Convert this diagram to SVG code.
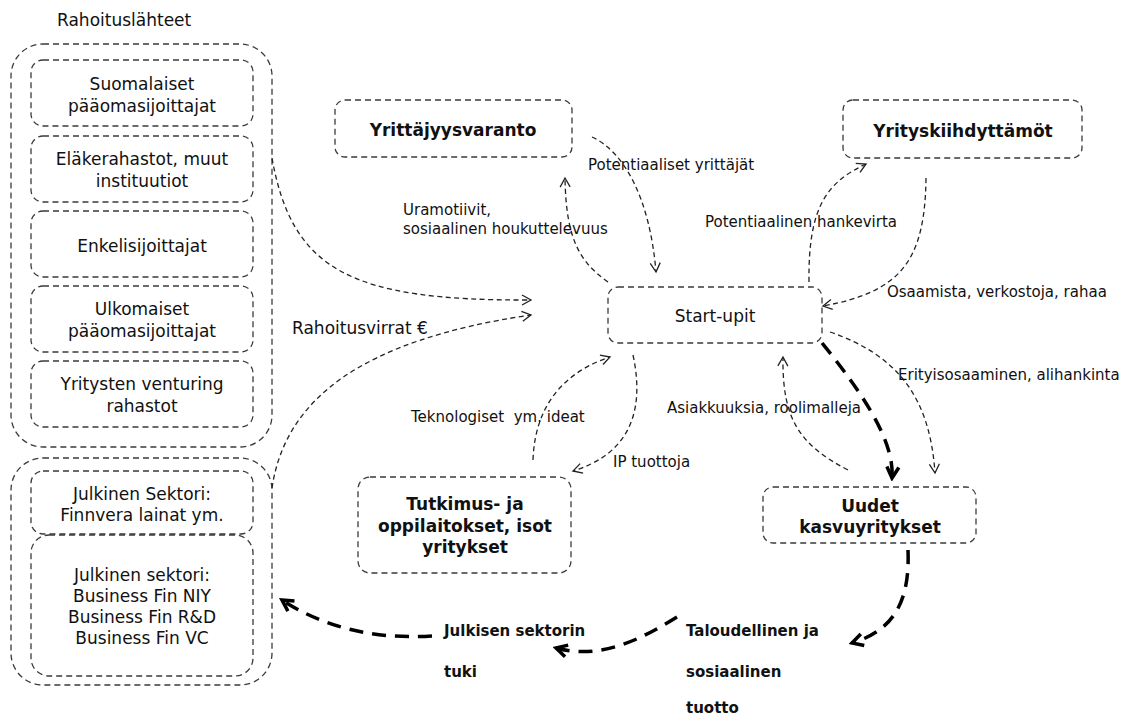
<svg xmlns="http://www.w3.org/2000/svg" width="1128" height="717" viewBox="0 0 1128 717">
<defs>
<style>
.box{fill:none;stroke:#3a3a3a;stroke-width:1.3;stroke-dasharray:6 4}
.t{font-family:"DejaVu Sans",Verdana,sans-serif;fill:#111}
.bt{font-size:17px;text-anchor:middle}
.hd{font-size:17px;font-weight:bold;text-anchor:middle}
.lb{font-size:15px}
.bl{font-size:15px;font-weight:bold}
.thin{fill:none;stroke:#222;stroke-width:1.3;stroke-dasharray:5 3.5}
.thick{fill:none;stroke:#000;stroke-width:3.5;stroke-dasharray:14 9}
</style>
<marker id="ah" viewBox="0 0 12 12" refX="10" refY="6" markerWidth="12" markerHeight="12" markerUnits="userSpaceOnUse" orient="auto">
<path d="M1,1 L10,6 L1,11" fill="none" stroke="#222" stroke-width="1.3"/>
</marker>
<marker id="ahk" viewBox="0 0 16 16" refX="13" refY="8" markerWidth="16" markerHeight="16" markerUnits="userSpaceOnUse" orient="auto">
<path d="M2,2 L13,8 L2,14" fill="none" stroke="#000" stroke-width="3.5"/>
</marker>
</defs>
<rect width="1128" height="717" fill="#fff"/>

<g id="rahoituslahteet">
<text class="t" x="57" y="26" font-size="17">Rahoituslähteet</text>
<rect class="box" x="11" y="44" width="261" height="403" rx="32"/>
</g>
<g id="suomalaiset">
<rect class="box" x="31" y="60" width="222" height="66" rx="12"/>
<text class="t bt" x="142" y="90">Suomalaiset</text>
<text class="t bt" x="142" y="112">pääomasijoittajat</text>
</g>
<g id="elakerahastot">
<rect class="box" x="31" y="136" width="222" height="66" rx="12"/>
<text class="t bt" x="142" y="165">Eläkerahastot, muut</text>
<text class="t bt" x="142" y="187">instituutiot</text>
</g>
<g id="enkelisijoittajat">
<rect class="box" x="31" y="211" width="222" height="66" rx="12"/>
<text class="t bt" x="142" y="252">Enkelisijoittajat</text>
</g>
<g id="ulkomaiset">
<rect class="box" x="31" y="286" width="222" height="66" rx="12"/>
<text class="t bt" x="142" y="315">Ulkomaiset</text>
<text class="t bt" x="142" y="337">pääomasijoittajat</text>
</g>
<g id="venturing">
<rect class="box" x="31" y="361" width="222" height="66" rx="12"/>
<text class="t bt" x="142" y="390">Yritysten venturing</text>
<text class="t bt" x="142" y="412">rahastot</text>
</g>

<g id="julkinen-ryhma">
<rect class="box" x="11" y="458" width="261" height="227" rx="32"/>
</g>
<g id="finnvera">
<rect class="box" x="31" y="471" width="222" height="63" rx="12"/>
<text class="t bt" x="142" y="500">Julkinen Sektori:</text>
<text class="t bt" x="142" y="521">Finnvera lainat ym.</text>
</g>
<g id="businessfin">
<rect class="box" x="31" y="535" width="222" height="141" rx="18"/>
<text class="t bt" x="142" y="581">Julkinen sektori:</text>
<text class="t bt" x="142" y="602">Business Fin NIY</text>
<text class="t bt" x="142" y="623">Business Fin R&amp;D</text>
<text class="t bt" x="142" y="644">Business Fin VC</text>
</g>

<g id="yrittajyysvaranto">
<rect class="box" x="335" y="100" width="237" height="57" rx="10"/>
<text class="t hd" x="453" y="136">Yrittäjyysvaranto</text>
</g>
<g id="yrityskiihdyttamot">
<rect class="box" x="843" y="100" width="239" height="58" rx="10"/>
<text class="t hd" x="963" y="137">Yrityskiihdyttämöt</text>
</g>
<g id="startupit">
<rect class="box" x="608" y="287" width="214" height="56" rx="10"/>
<text class="t bt" x="715" y="322">Start-upit</text>
</g>
<g id="tutkimus">
<rect class="box" x="358" y="477" width="213" height="96" rx="12"/>
<text class="t hd" x="465" y="510">Tutkimus- ja</text>
<text class="t hd" x="465" y="532">oppilaitokset, isot</text>
<text class="t hd" x="465" y="553">yritykset</text>
</g>
<g id="uudet">
<rect class="box" x="763" y="487" width="213" height="56" rx="10"/>
<text class="t hd" x="870" y="512">Uudet</text>
<text class="t hd" x="870" y="533">kasvuyritykset</text>
</g>
<g id="julkisen-tuki">
<text class="t bl" x="444" y="636">Julkisen sektorin</text>
<text class="t bl" x="444" y="677">tuki</text>
</g>
<g id="tuotto">
<text class="t bl" x="686" y="636">Taloudellinen ja</text>
<text class="t bl" x="686" y="677">sosiaalinen</text>
<text class="t bl" x="686" y="713">tuotto</text>
</g>

<g id="connectors">
<path class="thin" d="M272,158 C292,270 350,301 531,300" marker-end="url(#ah)"/>
<path class="thin" d="M272,488 C285,400 360,340 531,315" marker-end="url(#ah)"/>
<path class="thin" d="M592,137 C625,152 650,200 656,272" marker-end="url(#ah)"/>
<path class="thin" d="M608,282 C580,262 566,240 565,178" marker-end="url(#ah)"/>
<path class="thin" d="M809,282 C808,205 828,182 866,164" marker-end="url(#ah)"/>
<path class="thin" d="M926,178 C925,262 900,292 823,306" marker-end="url(#ah)"/>
<path class="thin" d="M830,332 C900,356 930,400 935,473" marker-end="url(#ah)"/>
<path class="thin" d="M848,470 C800,445 782,420 783,357" marker-end="url(#ah)"/>
<path class="thin" d="M633,355 C647,420 622,456 573,471" marker-end="url(#ah)"/>
<path class="thin" d="M533,460 C535,400 570,370 610,357" marker-end="url(#ah)"/>
<path class="thick" d="M822,343 C860,390 895,440 892,478" marker-end="url(#ahk)"/>
<path class="thick" d="M908,550 C910,600 895,630 852,643" marker-end="url(#ahk)"/>
<path class="thick" d="M677,617 C640,640 600,660 556,648" marker-end="url(#ahk)"/>
<path class="thick" d="M432,636 C370,640 320,625 282,600" marker-end="url(#ahk)"/>
<text class="t lb" x="588" y="170">Potentiaaliset yrittäjät</text>
<text class="t lb" x="403" y="215">Uramotiivit,</text>
<text class="t lb" x="403" y="234">sosiaalinen houkuttelevuus</text>
<text class="t lb" x="705" y="227">Potentiaalinen hankevirta</text>
<text class="t lb" x="887" y="297">Osaamista, verkostoja, rahaa</text>
<text class="t" x="292" y="334" font-size="17">Rahoitusvirrat €</text>
<text class="t lb" x="411" y="422" style="white-space:pre">Teknologiset  ym. ideat</text>
<text class="t lb" x="613" y="467">IP tuottoja</text>
<text class="t lb" x="667" y="413">Asiakkuuksia, roolimalleja</text>
<text class="t lb" x="898" y="380">Erityisosaaminen, alihankinta</text>
</g>
</svg>
